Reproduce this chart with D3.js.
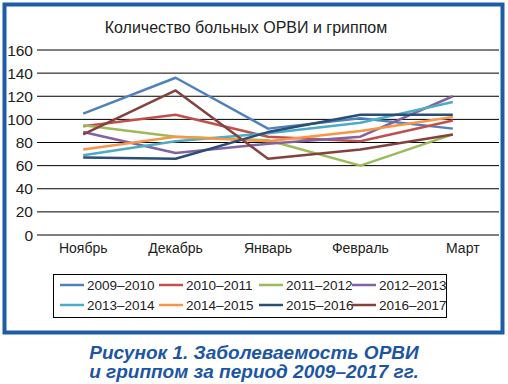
<!DOCTYPE html>
<html>
<head>
<meta charset="utf-8">
<script src="https://cdn.jsdelivr.net/npm/d3@7"></script>
<style>
  body { margin: 0; background: #fff; }
  text { font-family: "Liberation Sans", Arial, sans-serif; }
</style>
</head>
<body>
<svg id="chart" width="508" height="384"></svg>
<script>
// months on the x axis
const months = ["Ноябрь", "Декабрь", "Январь", "Февраль", "Март"];
const seasons = ["2009–2010", "2010–2011", "2011–2012", "2012–2013",
                 "2013–2014", "2014–2015", "2015–2016", "2016–2017"];
const colors = ["#4f81bd", "#c0504d", "#9bbb59", "#8064a2",
                "#4bacc6", "#f79646", "#2c4d75", "#84423f"];

// values, one array per season
const v0910 = [105, 136, 92, 101, 92];
const v1011 = [94, 104, 85, 81, 99];
const v1112 = [95, 85, 82, 60, 87];
const v1213 = [89, 71, 79, 85, 120];
const v1314 = [69, 81, 88, 97, 115];
const v1415 = [74, 85, 81, 90, 102];
const v1516 = [67, 66, 89, 104, 104];
const v1617 = [87, 125, 66, 74, 87];
const allValues = [v0910, v1011, v1112, v1213, v1314, v1415, v1516, v1617];

const yTicks = [0, 20, 40, 60, 80, 100, 120, 140, 160];

const svg = d3.select("#chart");

// outer blue frame
svg.append("rect")
  .attr("x", 4.5).attr("y", 4.5)
  .attr("width", 498).attr("height", 328)
  .attr("fill", "none")
  .attr("stroke", "#1d5ca8")
  .attr("stroke-width", 4);

// title
svg.append("text")
  .attr("x", 246).attr("y", 33)
  .attr("text-anchor", "middle")
  .attr("font-size", "16px")
  .attr("fill", "#222")
  .text("Количество больных ОРВИ и гриппом");

const x = d3.scaleBand().domain(months).range([37, 499]);
const y = d3.scaleLinear().domain([0, 160]).range([235, 50]);

// gridlines
svg.append("g")
  .selectAll("line")
  .data(yTicks)
  .join("line")
  .attr("x1", 37).attr("x2", 499)
  .attr("y1", d => y(d)).attr("y2", d => y(d))
  .attr("stroke", "#000")
  .attr("stroke-width", 1);

// y tick labels
svg.append("g")
  .selectAll("text")
  .data(yTicks)
  .join("text")
  .attr("x", 33)
  .attr("y", d => y(d) + 5.5)
  .attr("text-anchor", "end")
  .attr("font-size", "15.5px")
  .attr("fill", "#222")
  .text(d => d);

// x labels
svg.append("g")
  .selectAll("text")
  .data(months)
  .join("text")
  .attr("x", (d, i) => x(d) + x.bandwidth() / 2 + (i === 4 ? 10 : 0))
  .attr("y", 253)
  .attr("text-anchor", "middle")
  .attr("font-size", "14px")
  .attr("fill", "#222")
  .text(d => d);

// lines
const line = d3.line()
  .x((d, i) => x(months[i]) + x.bandwidth() / 2)
  .y(d => y(d));

svg.append("g")
  .selectAll("path")
  .data(allValues)
  .join("path")
  .attr("d", d => line(d))
  .attr("fill", "none")
  .attr("stroke", (d, i) => colors[i])
  .attr("stroke-width", 2.5)
  .attr("stroke-linejoin", "round");

// legend
svg.append("rect")
  .attr("x", 53.5).attr("y", 274.5)
  .attr("width", 393).attr("height", 43)
  .attr("fill", "none")
  .attr("stroke", "#000")
  .attr("stroke-width", 1);

const legX = [60, 159, 259, 352];
const legY = [285, 305];

const leg = svg.append("g")
  .selectAll("g")
  .data(seasons)
  .join("g")
  .attr("transform", (d, i) => `translate(${legX[i % 4]}, ${legY[Math.floor(i / 4)]})`);

leg.append("line")
  .attr("x1", 0).attr("x2", 24)
  .attr("stroke", (d, i) => colors[i])
  .attr("stroke-width", 2.5);

leg.append("text")
  .attr("x", 27).attr("y", 5)
  .attr("font-size", "13.5px")
  .attr("fill", "#222")
  .text(d => d);

// caption
const cap = svg.append("text")
  .attr("text-anchor", "middle")
  .attr("font-size", "19px")
  .attr("font-weight", "bold")
  .attr("font-style", "italic")
  .attr("fill", "#1c56a2");

cap.append("tspan").attr("x", 254).attr("y", 359).text("Рисунок 1. Заболеваемость ОРВИ");
cap.append("tspan").attr("x", 254).attr("y", 378).text("и гриппом за период 2009–2017 гг.");
</script>
</body>
</html>
